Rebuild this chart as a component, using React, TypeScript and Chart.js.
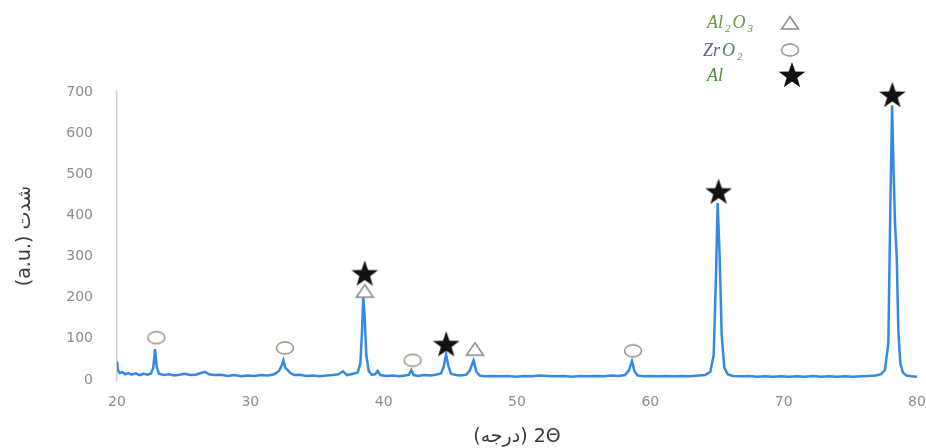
import { useEffect, useRef } from "react";
import { Chart, registerables } from "chart.js";

Chart.register(...registerables);

const angles = [
  20.0, 20.08, 20.2, 20.4, 20.6, 20.85, 21.1, 21.4, 21.7, 22.0, 22.3, 22.55, 22.72, 22.85, 22.98, 23.15,
  23.5, 23.9, 24.3, 24.7, 25.1, 25.5, 25.9, 26.3, 26.6, 26.9, 27.3, 27.8, 28.3, 28.8, 29.3, 29.8,
  30.3, 30.8, 31.3, 31.8, 32.15, 32.35, 32.48, 32.62, 32.8, 33.0, 33.3, 33.7, 34.2, 34.7, 35.2, 35.7,
  36.2, 36.6, 36.95, 37.25, 37.7, 38.05, 38.25, 38.38, 38.47, 38.58, 38.7, 38.88, 39.1, 39.35, 39.55, 39.75,
  40.2, 40.7, 41.2, 41.6, 41.9, 42.07, 42.25, 42.6, 43.0, 43.5, 43.9, 44.3, 44.5, 44.68, 44.85, 45.05,
  45.4, 45.8, 46.2, 46.45, 46.74, 46.95, 47.2, 47.6, 48.1, 48.7, 49.3, 49.9, 50.5, 51.1, 51.7, 52.3,
  52.9, 53.5, 54.1, 54.7, 55.3, 55.9, 56.5, 57.1, 57.6, 58.1, 58.4, 58.62, 58.8, 59.05, 59.5, 60.0,
  60.6, 61.2, 61.8, 62.4, 63.0, 63.6, 64.1, 64.5, 64.75, 64.92, 65.05, 65.2, 65.35, 65.55, 65.8, 66.2,
  66.8, 67.4, 68.0, 68.6, 69.2, 69.8, 70.4, 71.0, 71.6, 72.2, 72.8, 73.4, 74.0, 74.6, 75.2, 75.8,
  76.4, 76.9, 77.3, 77.6, 77.85, 78.0, 78.13, 78.25, 78.35, 78.48, 78.6, 78.75, 78.95, 79.2, 79.6, 80.0,
];
const intensities = [
  45, 24, 17, 19, 14, 17, 13, 16, 12, 15, 13, 16, 30, 75, 32, 15,
  12, 14, 11, 13, 15, 12, 13, 17, 20, 14, 12, 13, 10, 12, 9, 11,
  10, 12, 11, 14, 22, 35, 48, 30, 24, 17, 12, 13, 10, 11, 9, 11,
  12, 14, 21, 12, 15, 18, 40, 120, 201, 150, 60, 22, 13, 14, 22, 12,
  10, 11, 9, 11, 13, 24, 12, 10, 12, 11, 13, 16, 32, 62, 34, 15,
  12, 11, 13, 22, 48, 20, 11, 9, 10, 9, 10, 8, 10, 9, 11, 10,
  9, 10, 8, 10, 9, 10, 9, 11, 10, 12, 24, 46, 22, 11, 9, 10,
  9, 10, 9, 10, 9, 11, 12, 20, 60, 250, 430, 300, 110, 30, 14, 10,
  9, 10, 8, 9, 8, 9, 8, 9, 8, 10, 8, 9, 8, 9, 8, 9,
  10, 11, 14, 25, 90, 420, 668, 500, 382, 300, 120, 40, 18, 11, 9, 8,
];

// Phase markers placed above the peaks
const alX = [38.58, 44.69, 65.12, 78.15];
const alY = [259, 87, 458, 693];
const aluminaX = [38.58, 46.85];
const aluminaY = [216, 75];
const zirconiaX = [22.95, 32.6, 42.17, 58.7];
const zirconiaY = [103, 78, 48, 71];

const xTickMin = 20;
const xTickMax = 80;
const xTickStep = 10;
const yTickMin = 0;
const yTickMax = 700;
const yTickStep = 100;

const xTitle = "(درجه) 2Θ";
const yTitle = "(a.u.) شدت";

function makeStar(): HTMLCanvasElement {
  const c = document.createElement("canvas");
  c.width = 30;
  c.height = 30;
  const ctx = c.getContext("2d")!;
  const cx = 15, cy = 16, R = 14, r = 5.6;
  ctx.beginPath();
  for (let i = 0; i < 10; i++) {
    const rad = i % 2 === 0 ? R : r;
    const a = -Math.PI / 2 + (i * Math.PI) / 5;
    const px = cx + rad * Math.cos(a);
    const py = cy + rad * Math.sin(a);
    if (i === 0) ctx.moveTo(px, py);
    else ctx.lineTo(px, py);
  }
  ctx.closePath();
  ctx.fillStyle = "#111111";
  ctx.fill();
  return c;
}

function makeTriangle(): HTMLCanvasElement {
  const c = document.createElement("canvas");
  c.width = 20;
  c.height = 16;
  const ctx = c.getContext("2d")!;
  ctx.beginPath();
  ctx.moveTo(10, 1.5);
  ctx.lineTo(18.5, 14);
  ctx.lineTo(1.5, 14);
  ctx.closePath();
  ctx.fillStyle = "#ffffff";
  ctx.fill();
  ctx.strokeStyle = "#8a8a8a";
  ctx.lineWidth = 1.5;
  ctx.stroke();
  return c;
}

function makeEllipse(): HTMLCanvasElement {
  const c = document.createElement("canvas");
  c.width = 22;
  c.height = 16;
  const ctx = c.getContext("2d")!;
  ctx.beginPath();
  ctx.ellipse(11, 8, 8.5, 6, 0, 0, Math.PI * 2);
  ctx.fillStyle = "#ffffff";
  ctx.fill();
  ctx.strokeStyle = "#9a8e7e";
  ctx.lineWidth = 1.5;
  ctx.stroke();
  return c;
}

export default function App() {
  const ref = useRef<HTMLCanvasElement | null>(null);

  useEffect(() => {
    if (!ref.current) return;
    const starImg = makeStar();
    const triImg = makeTriangle();
    const ellImg = makeEllipse();

    const legendPlugin = {
      id: "phaseLegend",
      afterDraw(chart: any) {
        const ctx = chart.ctx as CanvasRenderingContext2D;
        ctx.save();
        ctx.textBaseline = "alphabetic";
        ctx.textAlign = "left";
        const big = "italic 18px 'Liberation Serif', serif";
        const small = "italic 11px 'Liberation Serif', serif";
        const drawParts = (x: number, y: number, parts: [string, boolean, string][]) => {
          let cx = x;
          for (const [t, sub, col] of parts) {
            ctx.font = sub ? small : big;
            ctx.fillStyle = col;
            ctx.fillText(t, cx, sub ? y + 4 : y);
            cx += ctx.measureText(t).width + 2;
          }
        };
        drawParts(707, 28, [["Al", false, "#6a9640"], ["2", true, "#6a9640"], ["O", false, "#6a9640"], ["3", true, "#6a9640"]]);
        drawParts(703, 56, [["Zr", false, "#5a5f9e"], ["O", false, "#4f7f7a"], ["2", true, "#5c9a40"]]);
        drawParts(707, 81, [["Al", false, "#4f8f35"]]);
        ctx.drawImage(triImg, 790 - triImg.width / 2, 23 - triImg.height / 2);
        ctx.drawImage(ellImg, 790 - ellImg.width / 2, 50 - ellImg.height / 2);
        ctx.drawImage(starImg, 792 - starImg.width / 2, 75 - starImg.height / 2);
        ctx.restore();
      },
    };

    const tickFont = { family: "'DejaVu Sans', sans-serif", size: 14 };
    const chart = new Chart(ref.current, {
      type: "line",
      data: {
        datasets: [
          {
            type: "line",
            data: angles.map((x, i) => ({ x, y: intensities[i] })),
            borderColor: "rgb(52,138,226)",
            borderWidth: 2.5,
            pointRadius: 0,
            tension: 0,
            fill: false,
            order: 3,
          },
          {
            type: "scatter",
            data: alX.map((x, i) => ({ x, y: alY[i] })),
            pointStyle: starImg,
            pointRadius: 8,
            clip: false,
            order: 0,
          },
          {
            type: "scatter",
            data: aluminaX.map((x, i) => ({ x, y: aluminaY[i] })),
            pointStyle: triImg,
            pointRadius: 8,
            clip: false,
            order: 1,
          },
          {
            type: "scatter",
            data: zirconiaX.map((x, i) => ({ x, y: zirconiaY[i] })),
            pointStyle: ellImg,
            pointRadius: 8,
            clip: false,
            order: 1,
          },
        ] as any,
      },
      options: {
        responsive: false,
        animation: false,
        events: [],
        layout: { padding: { top: 92, right: 8, left: 0, bottom: 0 } },
        plugins: {
          legend: { display: false },
          tooltip: { enabled: false },
        },
        scales: {
          x: {
            type: "linear",
            min: xTickMin,
            max: xTickMax,
            grid: { display: false, drawTicks: false },
            border: { display: false },
            ticks: {
              stepSize: xTickStep,
              color: "#8c8c8c",
              font: tickFont,
              padding: 14,
              maxRotation: 0,
            },
            title: {
              display: true,
              text: xTitle,
              color: "#3a3a3a",
              font: { family: "'DejaVu Sans', sans-serif", size: 19 },
              padding: { top: 0, bottom: 0 },
            },
            afterFit: (s: any) => {
              s.height = 68;
              s.paddingRight = 0;
            },
          },
          y: {
            min: yTickMin,
            max: yTickMax,
            grid: { display: false, drawTicks: false },
            border: { display: true, color: "#cfcfcf", width: 1.5 },
            ticks: {
              stepSize: yTickStep,
              color: "#8c8c8c",
              font: tickFont,
              padding: 24,
            },
            title: {
              display: true,
              text: yTitle,
              color: "#3a3a3a",
              font: { family: "'DejaVu Sans', sans-serif", size: 19 },
              padding: { top: 14, bottom: 0 },
            },
            afterFit: (s: any) => {
              s.width = 117;
            },
          },
        },
      },
      plugins: [legendPlugin],
    });
    return () => chart.destroy();
  }, []);

  return (
    <div style={{ position: "absolute", left: 0, top: 0, width: 926, height: 448, background: "#ffffff" }}>
      <canvas ref={ref} width={926} height={448} style={{ display: "block" }} />
    </div>
  );
}
